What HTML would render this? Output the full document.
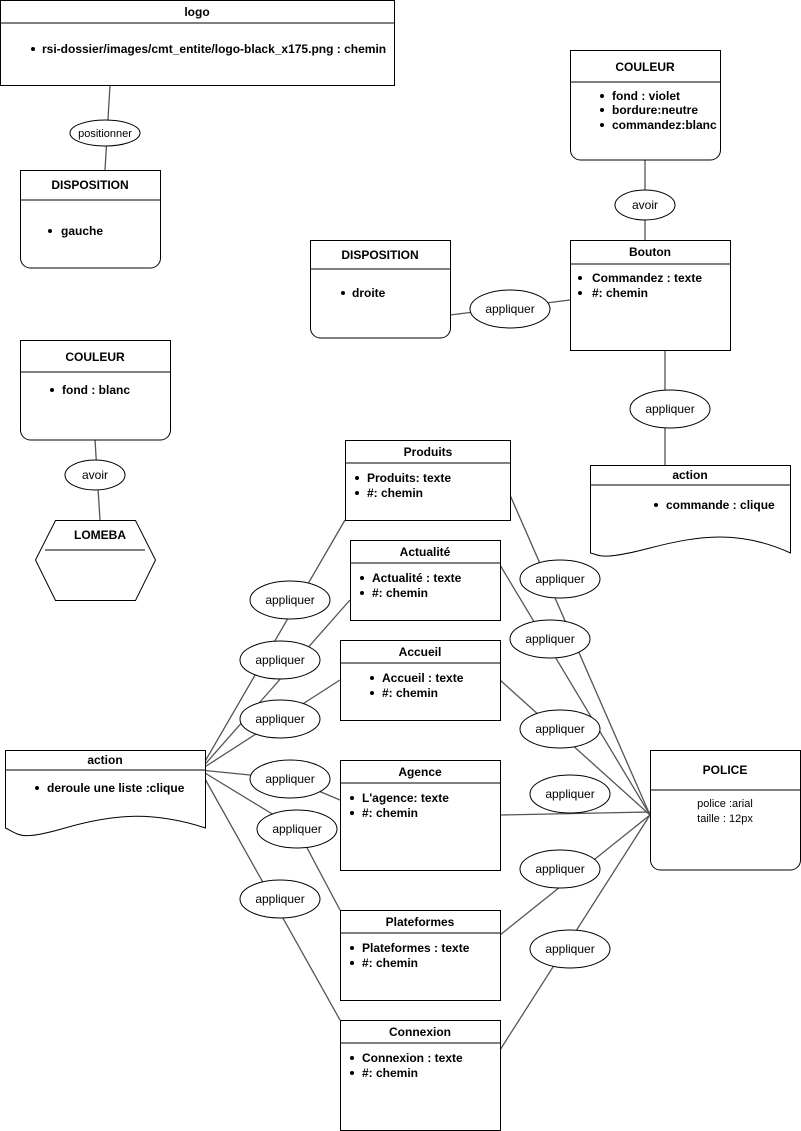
<!DOCTYPE html>
<html><head><meta charset="utf-8"><style>
html,body{margin:0;padding:0;background:#fff}
svg{display:block;font-family:"Liberation Sans",Arial,sans-serif}
.h{font-size:12px;font-weight:bold;text-anchor:middle}
.t{font-size:12px;font-weight:bold}
.e{font-size:12px;text-anchor:middle}
.n{font-size:11px;text-anchor:middle}
</style></head><body>
<svg width="801" height="1131" viewBox="0 0 801 1131" xmlns="http://www.w3.org/2000/svg">
<g stroke="#555" stroke-width="1.3" fill="none">
<line x1="110" y1="85" x2="105" y2="170"/>
<line x1="645" y1="160" x2="645" y2="240"/>
<line x1="450" y1="315" x2="570" y2="300"/>
<line x1="665" y1="350" x2="665" y2="470"/>
<line x1="95" y1="440" x2="100" y2="520"/>
<line x1="200" y1="770" x2="345" y2="520"/>
<line x1="200" y1="770" x2="350" y2="600"/>
<line x1="200" y1="770" x2="340" y2="680"/>
<polyline points="200,770 290,779 340,800"/>
<polyline points="200,770 297,829 340,910"/>
<line x1="200" y1="770" x2="340" y2="1020"/>
<line x1="510" y1="495" x2="650" y2="815"/>
<line x1="500" y1="565" x2="650" y2="815"/>
<line x1="500" y1="680" x2="650" y2="815"/>
<line x1="500" y1="815" x2="650" y2="812"/>
<line x1="500" y1="935" x2="650" y2="815"/>
<line x1="500" y1="1050" x2="650" y2="815"/>
</g>
<g stroke="#000" stroke-width="1" fill="#fff">
<!-- logo -->
<rect x="0.5" y="0.5" width="394" height="85"/><line x1="0" y1="23" x2="395" y2="23"/>
<!-- Disposition left -->
<path d="M20.5 170.5H160.5V258a10 10 0 0 1-10 10H30.5a10 10 0 0 1-10-10Z"/><line x1="20" y1="200" x2="160" y2="200"/>
<!-- Couleur top right -->
<path d="M570.5 50.5H720.5V150a10 10 0 0 1-10 10H580.5a10 10 0 0 1-10-10Z"/><line x1="570" y1="82" x2="720" y2="82"/>
<!-- Disposition right -->
<path d="M310.5 240.5H450.5V328a10 10 0 0 1-10 10H320.5a10 10 0 0 1-10-10Z"/><line x1="310" y1="269" x2="450" y2="269"/>
<!-- Bouton -->
<rect x="570.5" y="240.5" width="160" height="110"/><line x1="570" y1="264" x2="730" y2="264"/>
<!-- action right -->
<path d="M590.5 465.5H790.5V553C740 530 700 535 650 548S600 555 590.5 553Z"/><line x1="590" y1="485" x2="790" y2="485"/>
<!-- couleur left -->
<path d="M20.5 340.5H170.5V430a10 10 0 0 1-10 10H30.5a10 10 0 0 1-10-10Z"/><line x1="20" y1="372" x2="170" y2="372"/>
<!-- lomeba -->
<polygon points="55.5,520.5 135.5,520.5 155.5,560 135.5,600.5 55.5,600.5 35.5,560"/><line x1="45" y1="550" x2="145" y2="550" fill="none"/>
<!-- action left -->
<path d="M5.5 750.5H205.5V828C150 810 110 815 65 828S20 835 5.5 828Z"/><line x1="5" y1="770" x2="205" y2="770"/>
<!-- police -->
<path d="M650.5 750.5H800.5V860a10 10 0 0 1-10 10H660.5a10 10 0 0 1-10-10Z"/><line x1="650" y1="790" x2="800" y2="790"/>
<!-- menu items -->
<rect x="345.5" y="440.5" width="165" height="80"/><line x1="345" y1="463" x2="510" y2="463"/>
<rect x="350.5" y="540.5" width="150" height="80"/><line x1="350" y1="563" x2="500" y2="563"/>
<rect x="340.5" y="640.5" width="160" height="80"/><line x1="340" y1="663" x2="500" y2="663"/>
<rect x="340.5" y="760.5" width="160" height="110"/><line x1="340" y1="783" x2="500" y2="783"/>
<rect x="340.5" y="910.5" width="160" height="90"/><line x1="340" y1="933" x2="500" y2="933"/>
<rect x="340.5" y="1020.5" width="160" height="110"/><line x1="340" y1="1043" x2="500" y2="1043"/>
<!-- ellipses -->
<ellipse cx="105" cy="133" rx="35" ry="13"/>
<ellipse cx="645" cy="205" rx="30" ry="15"/>
<ellipse cx="510" cy="309" rx="40" ry="19"/>
<ellipse cx="670" cy="409" rx="40" ry="19"/>
<ellipse cx="95" cy="475" rx="30" ry="15"/>
<ellipse cx="290" cy="600" rx="40" ry="19"/>
<ellipse cx="280" cy="660" rx="40" ry="19"/>
<ellipse cx="280" cy="719" rx="40" ry="19"/>
<ellipse cx="290" cy="779" rx="40" ry="19"/>
<ellipse cx="297" cy="829" rx="40" ry="19"/>
<ellipse cx="280" cy="899" rx="40" ry="19"/>
<ellipse cx="560" cy="579" rx="40" ry="19"/>
<ellipse cx="550" cy="639" rx="40" ry="19"/>
<ellipse cx="560" cy="729" rx="40" ry="19"/>
<ellipse cx="570" cy="794" rx="40" ry="19"/>
<ellipse cx="560" cy="869" rx="40" ry="19"/>
<ellipse cx="570" cy="949" rx="40" ry="19"/>
</g>
<g fill="#000">
<text class="h" x="197" y="16" font-weight="normal">logo</text>
<circle cx="33" cy="49" r="2"/><text class="t" x="42" y="53">rsi-dossier/images/cmt_entite/logo-black_x175.png : chemin</text>
<text class="h" x="90" y="189">DISPOSITION</text>
<circle cx="50" cy="231" r="2"/><text class="t" x="61" y="235">gauche</text>
<text class="h" x="645" y="71">COULEUR</text>
<circle cx="602" cy="96" r="2"/><text class="t" x="612" y="100">fond : violet</text>
<circle cx="602" cy="110" r="2"/><text class="t" x="612" y="114">bordure:neutre</text>
<circle cx="602" cy="125" r="2"/><text class="t" x="612" y="129">commandez:blanc</text>
<text class="h" x="380" y="259">DISPOSITION</text>
<circle cx="343" cy="293" r="2"/><text class="t" x="352" y="297">droite</text>
<text class="h" x="650" y="256">Bouton</text>
<circle cx="580" cy="278" r="2"/><text class="t" x="592" y="282">Commandez : texte</text>
<circle cx="580" cy="293" r="2"/><text class="t" x="592" y="297">#: chemin</text>
<text class="h" x="690" y="479" font-weight="normal">action</text>
<circle cx="656" cy="505" r="2"/><text class="t" x="666" y="509">commande : clique</text>
<text class="h" x="95" y="361">COULEUR</text>
<circle cx="52" cy="390" r="2"/><text class="t" x="62" y="394">fond : blanc</text>
<text class="h" x="100" y="539">LOMEBA</text>
<text class="h" x="105" y="764" font-weight="normal">action</text>
<circle cx="37" cy="788" r="2"/><text class="t" x="47" y="792">deroule une liste :clique</text>
<text class="h" x="725" y="774" font-weight="normal">POLICE</text>
<text class="n" x="725" y="807">police :arial</text>
<text class="n" x="725" y="822">taille : 12px</text>
<text class="h" x="428" y="456">Produits</text>
<circle cx="357" cy="478" r="2"/><text class="t" x="367" y="482">Produits: texte</text>
<circle cx="357" cy="493" r="2"/><text class="t" x="367" y="497">#: chemin</text>
<text class="h" x="425" y="556">Actualité</text>
<circle cx="362" cy="578" r="2"/><text class="t" x="372" y="582">Actualité : texte</text>
<circle cx="362" cy="593" r="2"/><text class="t" x="372" y="597">#: chemin</text>
<text class="h" x="420" y="656">Accueil</text>
<circle cx="372" cy="678" r="2"/><text class="t" x="382" y="682">Accueil : texte</text>
<circle cx="372" cy="693" r="2"/><text class="t" x="382" y="697">#: chemin</text>
<text class="h" x="420" y="776">Agence</text>
<circle cx="352" cy="798" r="2"/><text class="t" x="362" y="802">L'agence: texte</text>
<circle cx="352" cy="813" r="2"/><text class="t" x="362" y="817">#: chemin</text>
<text class="h" x="420" y="926">Plateformes</text>
<circle cx="352" cy="948" r="2"/><text class="t" x="362" y="952">Plateformes : texte</text>
<circle cx="352" cy="963" r="2"/><text class="t" x="362" y="967">#: chemin</text>
<text class="h" x="420" y="1036">Connexion</text>
<circle cx="352" cy="1058" r="2"/><text class="t" x="362" y="1062">Connexion : texte</text>
<circle cx="352" cy="1073" r="2"/><text class="t" x="362" y="1077">#: chemin</text>
<text class="n" x="105" y="137">positionner</text>
<text class="e" x="645" y="209">avoir</text>
<text class="e" x="510" y="313">appliquer</text>
<text class="e" x="670" y="413">appliquer</text>
<text class="e" x="95" y="479">avoir</text>
<text class="e" x="290" y="604">appliquer</text>
<text class="e" x="280" y="664">appliquer</text>
<text class="e" x="280" y="723">appliquer</text>
<text class="e" x="290" y="783">appliquer</text>
<text class="e" x="297" y="833">appliquer</text>
<text class="e" x="280" y="903">appliquer</text>
<text class="e" x="560" y="583">appliquer</text>
<text class="e" x="550" y="643">appliquer</text>
<text class="e" x="560" y="733">appliquer</text>
<text class="e" x="570" y="798">appliquer</text>
<text class="e" x="560" y="873">appliquer</text>
<text class="e" x="570" y="953">appliquer</text>
</g>
</svg>
</body></html>
